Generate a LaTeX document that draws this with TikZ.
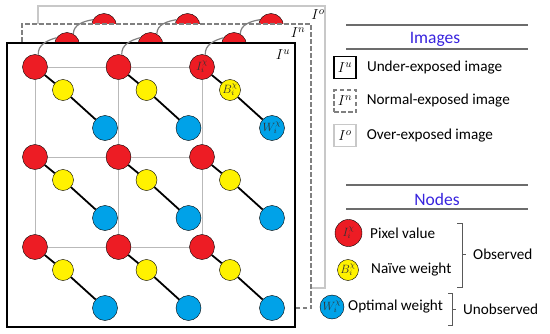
\documentclass[tikz,border=0pt]{standalone}
\usepackage{fontspec}
\setmainfont{Carlito}
\usepackage{tikz}
\usetikzlibrary{positioning}
\definecolor{pixelRed}{RGB}{237,28,36}
\definecolor{naiveYellow}{RGB}{255,242,0}
\definecolor{optBlue}{RGB}{0,162,232}
\definecolor{headBlue}{RGB}{56,36,222}
\definecolor{layerGray}{RGB}{200,200,200}
\definecolor{gridGray}{RGB}{185,185,185}

\tikzset{
  pix/.style={circle, draw=black, thin, fill=pixelRed, minimum size=25pt, inner sep=0pt},
  naive/.style={circle, draw=black, thin, fill=naiveYellow, minimum size=21pt, inner sep=0pt},
  optw/.style={circle, draw=black, thin, fill=optBlue, minimum size=25pt, inner sep=0pt},
  nodelab/.style={font=\fontsize{11.5}{12}\selectfont, text=black!80},
  link/.style={black, line width=1.8pt},
  gridline/.style={gridGray, line width=1pt},
  layerlink/.style={gray, line width=1.2pt},
  framelab/.style={font=\fontsize{15}{15}\selectfont},
  keybox/.style={minimum size=22pt, inner sep=0pt, font=\fontsize{15}{15}\selectfont},
  legtext/.style={anchor=west, inner sep=0pt, font=\fontsize{15.2}{18}\selectfont},
  head/.style={font=\fontsize{17.5}{20}\selectfont, text=headBlue},
  sepline/.style={gray!85!black, line width=1.1pt},
  bracket/.style={black!65, line width=0.9pt},
  layerdash/.style={dash pattern=on 4.5pt off 2.5pt}
}

\begin{document}
\begin{tikzpicture}[x=1pt,y=1pt]
    \useasboundingbox (0,0) rectangle (550,333);

    % Over-exposed image (back)
    \draw[layerGray, line width=1.5pt, fill=white] (38,45) rectangle (325,327);
    \foreach \c in {0,1,2}
        \node[pix] (ov\c) at (104+83.5*\c,307) {};
    \node[framelab] (lblO) at (318,318) {$I^o$};

    % Normal-exposed image
    \draw[gray, layerdash, line width=1.5pt, fill=white] (22,25) rectangle (311,309);
    \foreach \c in {0,1,2} {
        \node[pix] (nm\c) at (67+83.5*\c,288) {};
        \draw[layerlink] (nm\c.60) to[out=90,in=190] (ov\c.150);
    }
    \node[framelab] (lblN) at (298,300) {$I^n$};

    % Under-exposed image (front)
    \draw[black, line width=2pt, fill=white] (7,6) rectangle (295,290);
    \node[framelab] (lblU) at (283,278) {$I^u$};

    % Pixel, naive weight and optimal weight nodes
    \foreach \r in {0,1,2}
        \foreach \c in {0,1,2} {
            \node[pix] (px\r\c) at (35+83.5*\c,266-90*\r) {};
            \node[naive] (nw\r\c) at (63+83.5*\c,243-90*\r) {};
            \node[optw] (ow\r\c) at (105+83.5*\c,205-90*\r) {};
            \draw[link] (px\r\c) -- (nw\r\c) -- (ow\r\c);
        }
    \node[nodelab] at (px02) {$I_i^\chi$};
    \node[nodelab] at (nw02) {$B_i^\chi$};
    \node[nodelab] at (ow02) {$W_i^\chi$};

    % Grid between pixels
    \foreach \r in {0,1,2}
        \draw[gridline] (px\r0) -- (px\r1) -- (px\r2);
    \foreach \c in {0,1,2}
        \draw[gridline] (px0\c) -- (px1\c) -- (px2\c);

    % Links to the other exposures
    \foreach \c in {0,1,2}
        \draw[layerlink] (px0\c.75) to[out=95,in=195] (nm\c.145);

    % Legend: images
    \draw[sepline] (346,308) -- (528,308);
    \node[head] (imgHead) at (435,294) {Images};
    \draw[sepline] (346,284) -- (528,284);
    \node[keybox, draw=black, line width=1.6pt] (keyU) at (345,265.5) {$I^u$};
    \node[legtext, right=10pt of keyU] (txtU) {Under-exposed image};
    \node[keybox, draw=gray, layerdash, line width=1.2pt] (keyN) at (345,232) {$I^n$};
    \node[legtext, right=10pt of keyN] (txtN) {Normal-exposed image};
    \node[keybox, draw=layerGray, line width=1.2pt] (keyO) at (345,197.5) {$I^o$};
    \node[legtext, right=10pt of keyO] (txtO) {Over-exposed image};

    % Legend: nodes
    \draw[sepline] (346,148) -- (528,148);
    \node[head] (nodeHead) at (437,134) {Nodes};
    \draw[sepline] (346,124) -- (528,124);
    \node[pix, minimum size=27pt] (keyPix) at (348.5,100) {};
    \node[nodelab] at (keyPix) {$I_i^\chi$};
    \node[legtext] (txtPix) at (370,100) {Pixel value};
    \node[naive] (keyNaive) at (348,63) {};
    \node[nodelab] at (keyNaive) {$B_i^\chi$};
    \node[legtext] (txtNaive) at (371,63) {Naïve weight};
    \node[optw, minimum size=24pt] (keyOpt) at (332,26) {};
    \node[nodelab] at (keyOpt) {$W_i^\chi$};
    \node[legtext] (txtOpt) at (348,26) {Optimal weight};

    % Brackets
    \node[legtext] (txtObs) at (473,79) {Observed};
    \draw[bracket] (457,110) -| (462,46) -- (457,46);
    \draw[bracket] (462,79) -- ++(4,0);
    \node[legtext] (txtUnobs) at (463,24) {Unobserved};
    \draw[bracket] (448,40) -| (452,8) -- (448,8);
    \draw[bracket] (452,24) -- ++(4,0);

\end{tikzpicture}
\end{document}
